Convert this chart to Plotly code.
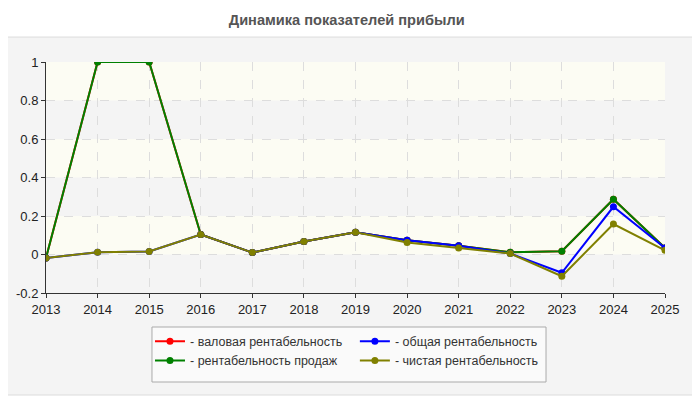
import plotly.graph_objects as go

years = list(range(2013, 2026))

# значения показателей (доли)
gross = [-0.018, 1.0, 1.0, 0.104, 0.010, 0.068, 0.115, 0.074, 0.045, 0.012, 0.017, 0.287, 0.034]
sales = [-0.018, 1.0, 1.0, 0.104, 0.010, 0.068, 0.115, 0.074, 0.045, 0.012, 0.017, 0.287, 0.034]
total = [-0.018, 0.012, 0.016, 0.104, 0.010, 0.068, 0.115, 0.074, 0.045, 0.005, -0.095, 0.248, 0.034]
net = [-0.018, 0.012, 0.016, 0.104, 0.010, 0.068, 0.115, 0.062, 0.034, 0.005, -0.113, 0.158, 0.022]

names = ['- валовая рентабельность', '- рентабельность продаж',
         '- общая рентабельность', '- чистая рентабельность']
colors = ['#ff0000', '#008000', '#0000ff', '#808000']
legend_ids = ['legend', 'legend', 'legend2', 'legend2']

y_ticks = [-0.2, 0, 0.2, 0.4, 0.6, 0.8, 1]
y_labels = ['-0.2', '0', '0.2', '0.4', '0.6', '0.8', '1']

fig = go.Figure()

for vals, name, col, lg in zip([gross, sales, total, net], names, colors, legend_ids):
    fig.add_trace(go.Scatter(
        x=years, y=vals, name=name, mode='lines+markers',
        line=dict(color=col, width=2),
        marker=dict(color=col, size=7),
        legend=lg
    ))

# фон-панель, полосы и рамка легенды
shapes = [dict(type='rect', xref='paper', yref='paper',
               x0=-0.0711, x1=1.0485, y0=-0.4416, y1=1.108,
               fillcolor='#f4f4f4', line=dict(color='#dcdcdc', width=1), layer='below')]
for lo in [0.0, 0.4, 0.8]:
    shapes.append(dict(type='rect', xref='paper', yref='y', x0=0, x1=1,
                       y0=lo, y1=lo + 0.2, fillcolor='#fcfcf3',
                       line=dict(width=0), layer='below'))
shapes.append(dict(type='rect', xref='paper', yref='paper',
                   x0=0.1712, x1=0.8078, y0=-0.3853, y1=-0.1472,
                   fillcolor='#fafafa', line=dict(color='#aaaaaa', width=1), layer='below'))

leg_style = dict(orientation='v', yanchor='top', xanchor='left', y=-0.146,
                 bgcolor='rgba(0,0,0,0)', borderwidth=0, itemwidth=30,
                 font=dict(size=12.5, color='#333'), tracegroupgap=0)

fig.update_layout(
    width=692, height=392,
    paper_bgcolor='white',
    plot_bgcolor='#f9f9f7',
    font=dict(family='Liberation Sans, Arial, sans-serif', size=13, color='#222'),
    title=dict(text='<b>Динамика показателей прибыли</b>', x=0.4895, xanchor='center',
               y=0.969, yanchor='middle', font=dict(size=14.6, color='#555')),
    margin=dict(l=38, r=35, t=54, b=107, autoexpand=False),
    shapes=shapes,
    xaxis=dict(range=[2013, 2025], tickmode='array', tickvals=years,
               showline=True, linecolor='#333', linewidth=1,
               ticks='outside', ticklen=4, tickcolor='#333',
               showgrid=True, gridcolor='#dddddd', griddash='dash',
               zeroline=False, fixedrange=True, automargin=False),
    yaxis=dict(range=[-0.2, 1], tickmode='array', tickvals=y_ticks, ticktext=y_labels,
               showline=True, linecolor='#333', linewidth=1,
               ticks='outside', ticklen=4, tickcolor='#333',
               showgrid=True, gridcolor='#dddddd', griddash='dash',
               zeroline=False, fixedrange=True, automargin=False),
    legend=dict(x=0.168, **leg_style),
    legend2=dict(x=0.499, **leg_style),
    showlegend=True
)

fig.write_html('out.html')
